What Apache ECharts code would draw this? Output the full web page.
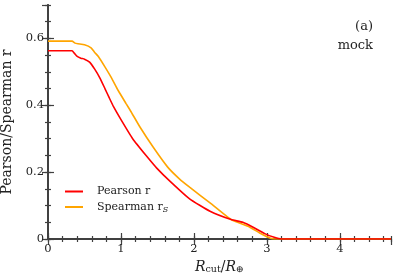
<!DOCTYPE html>
<html>
<head>
<meta charset="utf-8">
<script src="https://cdn.jsdelivr.net/npm/echarts@6/dist/echarts.min.js"></script>
<style>html,body{margin:0;padding:0;background:#fff;}#c{width:399px;height:279px;}</style>
</head>
<body>
<div id="c"></div>
<script>
// Pearson r (red)
const pearsonX = [0, 0.33, 0.36, 0.40, 0.45, 0.50, 0.57, 0.64, 0.71, 0.78, 0.84, 0.90, 1.00, 1.16, 1.35, 1.49, 1.67, 1.94, 2.22, 2.51, 2.67, 2.83, 2.97, 3.10, 3.20, 3.30, 4.70];
const pearsonY = [0.563, 0.563, 0.556, 0.546, 0.541, 0.538, 0.529, 0.508, 0.482, 0.450, 0.422, 0.395, 0.357, 0.300, 0.248, 0.212, 0.173, 0.120, 0.083, 0.058, 0.050, 0.033, 0.016, 0.005, 0.000, 0.000, 0.000];
// Spearman r_S (orange)
const spearmanX = [0, 0.33, 0.37, 0.41, 0.50, 0.59, 0.64, 0.69, 0.78, 0.87, 0.96, 1.07, 1.14, 1.26, 1.44, 1.64, 1.80, 1.94, 2.22, 2.51, 2.76, 2.90, 3.04, 3.10, 3.30, 4.70];
const spearmanY = [0.592, 0.592, 0.586, 0.584, 0.581, 0.572, 0.558, 0.546, 0.515, 0.482, 0.445, 0.405, 0.380, 0.335, 0.275, 0.215, 0.180, 0.155, 0.108, 0.058, 0.036, 0.018, 0.003, 0.000, 0.000, 0.000];
const xTickLabels = ['0', '1', '2', '3', '4'];
const yTickLabels = ['0', '0.2', '0.4', '0.6'];

const FONT = 'DejaVu Serif';
const AX = '#404040';
const toPairs = (xs, ys) => xs.map((x, i) => [x, ys[i]]);

function xAx(pos, interval, len, labels, extra) {
  return Object.assign({
    type: 'value', min: 0, max: 4.7, interval: interval, position: pos,
    axisLine: { show: true, lineStyle: { color: AX, width: 1.5 } },
    axisTick: { show: true, inside: true, length: len, lineStyle: { color: AX, width: 1.2 } },
    axisLabel: labels ? {
      show: true, fontFamily: FONT, fontSize: 11.5, color: '#222', margin: 4,
      showMaxLabel: false,
      formatter: v => { const i = Math.round(v); return Math.abs(v - i) < 1e-6 && xTickLabels[i] !== undefined ? xTickLabels[i] : ''; }
    } : { show: false },
    splitLine: { show: false }
  }, extra || {});
}
function yAx(pos, interval, len, labels, extra) {
  return Object.assign({
    type: 'value', min: 0, max: 0.7, interval: interval, position: pos,
    axisLine: { show: true, lineStyle: { color: AX, width: 1.5 } },
    axisTick: { show: true, inside: true, length: len, lineStyle: { color: AX, width: 1.2 } },
    axisLabel: labels ? {
      show: true, fontFamily: FONT, fontSize: 11.5, color: '#222', margin: 4,
      showMaxLabel: false,
      formatter: v => { const i = Math.round(v / 0.2); return Math.abs(v - i * 0.2) < 1e-6 && yTickLabels[i] !== undefined ? yTickLabels[i] : ''; }
    } : { show: false },
    splitLine: { show: false }
  }, extra || {});
}

const chart = echarts.init(document.getElementById('c'), null, { renderer: 'canvas' });
chart.setOption({
  animation: false,
  backgroundColor: '#fff',
  grid: { left: 48, right: 8, top: 5, bottom: 40, containLabel: false, outerBoundsMode: 'none' },
  xAxis: [
    xAx('bottom', 1, 6, true, {
      name: '{i|R}{s|cut}{n|/}{i|R}{s|\u2295}',
      nameLocation: 'middle', nameGap: 20,
      nameTextStyle: {
        fontFamily: FONT,
        rich: {
          i: { fontFamily: FONT, fontStyle: 'italic', fontSize: 14, color: '#222' },
          n: { fontFamily: FONT, fontSize: 14, color: '#222' },
          s: { fontFamily: FONT, fontSize: 9.5, color: '#222', padding: [6, 0, 0, 0] }
        }
      }
    }),
    xAx('bottom', 0.2, 3, false),
    xAx('top', 1, 6, false),
    xAx('top', 0.2, 3, false)
  ],
  yAxis: [
    yAx('left', 0.2, 6, true, {
      name: 'Pearson/Spearman r', nameLocation: 'middle', nameGap: 31,
      nameTextStyle: { fontFamily: FONT, fontSize: 14, color: '#222' }
    }),
    yAx('left', 0.05, 3, false),
    yAx('right', 0.2, 6, false),
    yAx('right', 0.05, 3, false)
  ],
  legend: {
    orient: 'vertical', left: 65, top: 186, itemGap: 4.5, padding: 0,
    itemWidth: 18, itemHeight: 2, icon: 'rect',
    textStyle: {
      fontFamily: FONT, fontSize: 11, color: '#222', padding: [0, 0, 0, 9],
      rich: {
        s: { fontFamily: FONT, fontStyle: 'italic', fontSize: 8, color: '#222', padding: [5, 0, 0, 0] }
      }
    },
    formatter: name => name === 'Spearman r_S' ? 'Spearman r{s|S}' : name,
    data: ['Pearson r', 'Spearman r_S']
  },
  graphic: [
    { type: 'text', right: 399 - 373, top: 20, style: { text: '(a)', fontFamily: FONT, fontSize: 13, fill: '#222', textAlign: 'right' } },
    { type: 'text', right: 399 - 373, top: 39, style: { text: 'mock', fontFamily: FONT, fontSize: 13, fill: '#222', textAlign: 'right' } }
  ],
  series: [
    {
      name: 'Spearman r_S', type: 'line', xAxisIndex: 0, yAxisIndex: 0,
      data: toPairs(spearmanX, spearmanY), showSymbol: false, symbol: 'none', smooth: 0.15,
      lineStyle: { color: '#ffa500', width: 1.6 }, itemStyle: { color: '#ffa500' }, z: 3
    },
    {
      name: 'Pearson r', type: 'line', xAxisIndex: 0, yAxisIndex: 0,
      data: toPairs(pearsonX, pearsonY), showSymbol: false, symbol: 'none', smooth: 0.15,
      lineStyle: { color: '#ff0000', width: 1.6 }, itemStyle: { color: '#ff0000' }, z: 4
    }
  ]
});
</script>
</body>
</html>
